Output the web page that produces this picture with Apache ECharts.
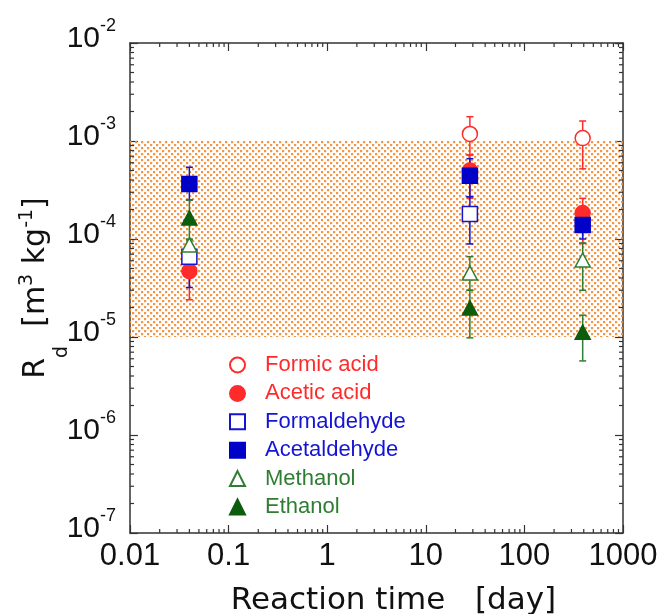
<!DOCTYPE html>
<html><head><meta charset="utf-8">
<script src="https://cdn.jsdelivr.net/npm/echarts@6/dist/echarts.min.js"></script>
<style>html,body{margin:0;padding:0;background:#fff}#c{width:659px;height:614px}</style>
</head><body><div id="c"></div>
<script>
// ---- data ----
const times = [0.04, 28, 390];

const formicAcid     = [null, 1.18e-3, 1.07e-3];
const formicAcidLow  = [null, 7.2e-4, 5.2e-4];
const formicAcidHigh = [null, 1.77e-3, 1.6e-3];

const aceticAcid     = [4.7e-5, 5.0e-4, 1.84e-4];
const aceticAcidLow  = [2.4e-5, 2.6e-4, 9.0e-5];
const aceticAcidHigh = [6.5e-5, 7.2e-4, 2.6e-4];

const formaldehyde     = [6.6e-5, 1.8e-4, null];
const formaldehydeLow  = [3.2e-5, 8.9e-5, null];
const formaldehydeHigh = [8.6e-5, 2.7e-4, null];

const acetaldehyde     = [3.64e-4, 4.43e-4, 1.39e-4];
const acetaldehydeLow  = [2.5e-4, 2.7e-4, 1.0e-4];
const acetaldehydeHigh = [5.4e-4, 6.6e-4, 1.9e-4];

const methanol     = [8.7e-5, 4.5e-5, 6.1e-5];
const methanolLow  = [6.5e-5, 3.0e-5, 3.0e-5];
const methanolHigh = [1.0e-4, 6.6e-5, 9.1e-5];

const ethanol     = [1.64e-4, 1.98e-5, 1.12e-5];
const ethanolLow  = [9.8e-5, 9.8e-6, 5.7e-6];
const ethanolHigh = [2.5e-4, 3.0e-5, 1.67e-5];

const xTickLabels = ['0.01', '0.1', '1', '10', '100', '1000'];
const yTickExponents = ['-7', '-6', '-5', '-4', '-3', '-2'];
const xRange = [0.01, 1000];
const yRange = [1e-7, 1e-2];
const bandRange = [1e-5, 1e-3];
const xDecades = [0.01, 0.1, 1, 10, 100];
const yDecades = [1e-7, 1e-6, 1e-5, 1e-4, 1e-3];
const minorSteps = [2, 3, 4, 5, 6, 7, 8, 9];

// ---- styling ----
const RED = '#ff2b2b', BLUE = '#1414d2', GREEN = '#2f7d32', DKGREEN = '#0c5c0c';
const FONT = 'Liberation Sans, Arial, sans-serif';
const TFONT = 'DejaVu Sans, sans-serif';

const seriesDefs = [
  {name: 'Formic acid', v: formicAcid, lo: formicAcidLow, hi: formicAcidHigh, symbol: 'circle', fill: '#fff', stroke: RED, text: RED, err: RED},
  {name: 'Acetic acid', v: aceticAcid, lo: aceticAcidLow, hi: aceticAcidHigh, symbol: 'circle', fill: RED, stroke: RED, text: RED, err: RED},
  {name: 'Formaldehyde', v: formaldehyde, lo: formaldehydeLow, hi: formaldehydeHigh, symbol: 'rect', fill: '#fff', stroke: BLUE, text: BLUE, err: BLUE},
  {name: 'Acetaldehyde', v: acetaldehyde, lo: acetaldehydeLow, hi: acetaldehydeHigh, symbol: 'rect', fill: '#0000c8', stroke: '#0000c8', text: BLUE, err: BLUE},
  {name: 'Methanol', v: methanol, lo: methanolLow, hi: methanolHigh, symbol: 'triangle', fill: '#fff', stroke: GREEN, text: GREEN, err: GREEN},
  {name: 'Ethanol', v: ethanol, lo: ethanolLow, hi: ethanolHigh, symbol: 'triangle', fill: DKGREEN, stroke: DKGREEN, text: GREEN, err: GREEN}
];

// dotted orange pattern (staggered small dots)
const pc = document.createElement('canvas');
pc.width = 6; pc.height = 6;
const g = pc.getContext('2d');
g.fillStyle = 'rgba(242,140,50,0.9)';
g.fillRect(0, 0, 2, 2); g.fillRect(3, 3, 2, 2);
g.fillStyle = 'rgba(245,160,90,0.25)';
g.fillRect(2, 0, 1, 2); g.fillRect(0, 2, 2, 1); g.fillRect(5, 3, 1, 2); g.fillRect(3, 5, 2, 1);

const xMinor = [], yMinor = [];
xDecades.forEach(d => minorSteps.forEach(m => xMinor.push([d * m, 1e-4])));
yDecades.forEach(d => minorSteps.forEach(m => yMinor.push([1, d * m])));

const series = [];
// band
series.push({
  type: 'scatter', name: '_band', data: [], z: 1, silent: true,
  markArea: {silent: true, itemStyle: {color: {image: pc, repeat: 'repeat'}, borderWidth: 0},
    data: [[{coord: [xRange[0], bandRange[1]]}, {coord: [xRange[1], bandRange[0]]}]]}
});
// minor ticks
const TK = '#333';
series.push({
  type: 'custom', name: '_xminor', data: xMinor, z: 5, silent: true, clip: false,
  renderItem: (params, api) => {
    const x = api.coord([api.value(0), 1e-4])[0];
    const cs = params.coordSys;
    const st = {stroke: TK, lineWidth: 1.2};
    return {type: 'group', children: [
      {type: 'line', shape: {x1: x, y1: cs.y + cs.height, x2: x, y2: cs.y + cs.height - 4}, style: st},
      {type: 'line', shape: {x1: x, y1: cs.y, x2: x, y2: cs.y + 4}, style: st}
    ]};
  }
});
series.push({
  type: 'custom', name: '_yminor', data: yMinor, z: 5, silent: true, clip: false,
  renderItem: (params, api) => {
    const y = api.coord([1, api.value(1)])[1];
    const cs = params.coordSys;
    const st = {stroke: TK, lineWidth: 1.2};
    return {type: 'group', children: [
      {type: 'line', shape: {x1: cs.x, y1: y, x2: cs.x + 4, y2: y}, style: st},
      {type: 'line', shape: {x1: cs.x + cs.width, y1: y, x2: cs.x + cs.width - 4, y2: y}, style: st}
    ]};
  }
});
// error bars
seriesDefs.forEach(s => {
  const d = [];
  times.forEach((t, i) => { if (s.v[i] != null) d.push([t, s.lo[i], s.hi[i]]); });
  series.push({
    type: 'custom', name: '_err_' + s.name, data: d, z: 3, silent: true,
    encode: {x: 0, y: [1, 2]},
    renderItem: (params, api) => {
      const p1 = api.coord([api.value(0), api.value(1)]);
      const p2 = api.coord([api.value(0), api.value(2)]);
      const cw = 3.5, st = {stroke: s.err, lineWidth: 1.5};
      return {type: 'group', children: [
        {type: 'line', shape: {x1: p1[0], y1: p1[1], x2: p2[0], y2: p2[1]}, style: st},
        {type: 'line', shape: {x1: p1[0] - cw, y1: p1[1], x2: p1[0] + cw, y2: p1[1]}, style: st},
        {type: 'line', shape: {x1: p2[0] - cw, y1: p2[1], x2: p2[0] + cw, y2: p2[1]}, style: st}
      ]};
    }
  });
});
// markers
seriesDefs.forEach((s, k) => {
  const d = [];
  times.forEach((t, i) => { if (s.v[i] != null) d.push([t, s.v[i]]); });
  series.push({
    type: 'scatter', name: s.name, data: d, z: 10 + k,
    symbol: s.symbol, symbolSize: s.symbol === 'triangle' ? [15, 14] : 15,
    itemStyle: {color: s.fill, borderColor: s.stroke, borderWidth: 1.5, opacity: 1},
    emphasis: {disabled: true}
  });
});

const axisLineStyle = {color: '#333', width: 1.5};
const tickStyle = {inside: true, length: 8, lineStyle: {color: '#333', width: 1.2}};
function xLabel(v) {
  const i = Math.round(Math.log10(v)) + 2;
  return xTickLabels[i] || '';
}
function yLabel(v) {
  const i = Math.round(Math.log10(v)) + 7;
  return '{b|10}{s|' + yTickExponents[i] + '}';
}

const option = {
  backgroundColor: '#fff',
  animation: false,
  grid: {left: 130, right: 36, top: 43, bottom: 81, containLabel: false, outerBoundsMode: 'none'},
  legend: {
    orient: 'vertical', left: 224, top: 346, itemWidth: 15, itemHeight: 15, itemGap: 0.4,
    selectedMode: false,
    textStyle: {fontSize: 22, fontFamily: FONT, lineHeight: 28, padding: [0, 0, 0, 15]},
    data: seriesDefs.map(s => ({name: s.name, textStyle: {color: s.text, fontSize: 22, fontFamily: FONT, lineHeight: 28, padding: [0, 0, 0, 15]}}))
  },
  xAxis: [
    {type: 'log', logBase: 10, min: xRange[0], max: xRange[1], position: 'bottom',
     axisLine: {onZero: false, lineStyle: axisLineStyle}, axisTick: tickStyle, splitLine: {show: false},
     axisLabel: {formatter: xLabel, fontSize: 31, fontFamily: FONT, color: '#111', margin: 8},
     name: 'Reaction time   [day]', nameLocation: 'middle', nameGap: 52, nameMoveOverlap: false,
     nameTextStyle: {fontSize: 31, fontFamily: TFONT, color: '#111', padding: [0, 0, 0, 34]}},
    {type: 'log', logBase: 10, min: xRange[0], max: xRange[1], position: 'top',
     axisLine: {onZero: false, lineStyle: axisLineStyle}, axisTick: tickStyle, splitLine: {show: false},
     axisLabel: {show: false}}
  ],
  yAxis: [
    {type: 'log', logBase: 10, min: yRange[0], max: yRange[1], position: 'left',
     axisLine: {onZero: false, lineStyle: axisLineStyle}, axisTick: tickStyle, splitLine: {show: false},
     axisLabel: {formatter: yLabel, margin: 14, padding: [0, 0, 15, 0], color: '#111',
       rich: {
         b: {fontSize: 30, fontFamily: FONT, color: '#111', lineHeight: 30, verticalAlign: 'bottom'},
         s: {fontSize: 18, fontFamily: FONT, color: '#111', lineHeight: 37, verticalAlign: 'top'}
       }},
     name: '{b|R}{sub|d}{b|  [m}{sup|3}{b| kg}{sup|-1}{b|]}', nameLocation: 'middle', nameRotate: 90,
     nameGap: 58, nameMoveOverlap: false,
     nameTextStyle: {color: '#111', fontFamily: TFONT,
       rich: {
         b: {fontSize: 30, fontFamily: TFONT, color: '#111', lineHeight: 30, verticalAlign: 'top', padding: [3, 0, 0, 0]},
         sup: {fontSize: 19, fontFamily: TFONT, color: '#111', lineHeight: 19, verticalAlign: 'top'},
         sub: {fontSize: 19, fontFamily: TFONT, color: '#111', lineHeight: 54, verticalAlign: 'bottom'}
       }}},
    {type: 'log', logBase: 10, min: yRange[0], max: yRange[1], position: 'right',
     axisLine: {onZero: false, lineStyle: axisLineStyle}, axisTick: tickStyle, splitLine: {show: false},
     axisLabel: {show: false}}
  ],
  series: series
};
const chart = echarts.init(document.getElementById('c'), null, {renderer: 'canvas'});
chart.setOption(option);
</script></body></html>
